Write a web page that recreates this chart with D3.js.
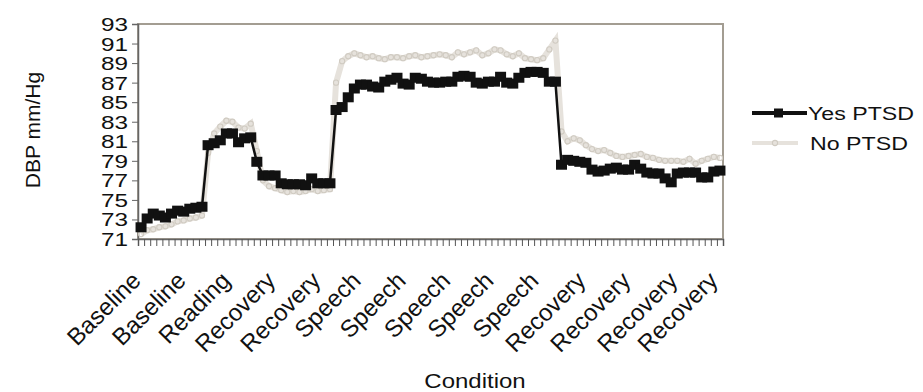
<!DOCTYPE html>
<html>
<head>
<meta charset="utf-8">
<script src="https://cdn.jsdelivr.net/npm/d3@7"></script>
<style>
  body { margin: 0; background: #fff; }
  text { font-family: 'Liberation Sans', Arial, sans-serif; fill: #111; }
</style>
</head>
<body>
<svg id="chart" width="923" height="392"></svg>
<script>
const yesPtsd = [
  72.2, 73.1, 73.6, 73.4, 73.2, 73.6, 73.9, 73.8, 74.1, 74.2, 74.3,
  80.6, 80.8, 81.1, 81.8, 81.8, 80.9, 81.3, 81.4,
  78.9, 77.5, 77.5, 77.5, 76.7, 76.6, 76.6, 76.6, 76.5, 77.2, 76.7, 76.7, 76.7,
  84.2, 84.5, 85.5, 86.4, 86.8, 86.8, 86.6, 86.5, 87.1, 87.3, 87.5, 86.9, 86.8,
  87.5, 87.4, 87.1, 87.0, 87.0, 87.1, 87.1, 87.6, 87.7, 87.6, 87.0, 86.9, 87.1,
  87.1, 87.6, 87.0, 86.9, 87.5, 88.0, 88.1, 88.1, 88.0, 87.1, 87.1,
  78.6, 79.1, 79.0, 78.9, 78.8, 78.1, 77.9, 78.0, 78.2, 78.3, 78.1, 78.1, 78.6,
  78.2, 77.8, 77.7, 77.7, 77.2, 76.8, 77.7, 77.8, 77.8, 77.8, 77.3, 77.3, 77.9, 78.0
];
const noPtsd = [
  71.5, 71.9, 72.0, 72.2, 72.3, 72.5, 72.8, 72.9, 73.1, 73.2, 73.4,
  79.8, 81.8, 82.5, 83.1, 83.0, 82.4, 82.3, 82.8,
  80.0, 77.0, 76.4, 76.2, 76.0, 75.8, 75.9, 75.8, 75.9, 76.1, 75.9, 76.0, 76.1,
  87.0, 89.2, 89.7, 90.0, 89.8, 89.6, 89.7, 89.5, 89.4, 89.6, 89.6, 89.5, 89.7,
  89.8, 89.6, 89.7, 89.8, 89.9, 89.8, 89.6, 90.1, 89.9, 90.1, 90.3, 89.8, 90.0,
  90.4, 90.3, 89.9, 89.7, 90.0, 89.5, 89.4, 89.3, 89.5, 90.4, 91.3,
  82.0, 81.0, 81.3, 81.1, 80.6, 80.2, 80.0, 80.1, 79.8, 79.5, 79.4, 79.5, 79.6,
  79.7, 79.4, 79.3, 79.1, 79.0, 79.0, 79.0, 78.9, 79.2, 78.7, 79.0, 79.2, 79.4, 79.3
];
const tickLabels = ['Baseline', 'Baseline', 'Reading', 'Recovery', 'Recovery',
  'Speech', 'Speech', 'Speech', 'Speech', 'Speech',
  'Recovery', 'Recovery', 'Recovery', 'Recovery'];
// where each label sits, in measurement units along the axis
const tickLabelPos = [-0.3, 7.1, 14.4, 21.8, 29.2, 35.8, 43.2, 50.5, 57.6, 65.0, 72.7, 80.1, 87.8, 94.4];
const yTicks = d3.range(71, 94, 2);
const seriesNames = ['Yes PTSD', 'No PTSD'];

const margin = { top: 24, right: 200, bottom: 153, left: 138 };
const width = 923 - margin.left - margin.right;
const height = 392 - margin.top - margin.bottom;
const n = yesPtsd.length;

const svg = d3.select('#chart');
const g = svg.append('g')
  .attr('transform', `translate(${margin.left},${margin.top})`);

const x = d3.scaleLinear().domain([0, n]).range([0, width]);
const y = d3.scaleLinear().domain([71, 93]).range([height, 0]);

// plot area frame
g.append('rect')
  .attr('width', width)
  .attr('height', height)
  .attr('fill', 'none')
  .attr('stroke', '#a39d92')
  .attr('stroke-width', 2);

// y axis
const yAxis = g.append('g')
  .call(d3.axisLeft(y).tickValues(yTicks).tickSize(6).tickFormat(d3.format('d')));
yAxis.select('.domain').attr('stroke', '#666').attr('stroke-width', 1.5);
yAxis.selectAll('.tick line').attr('stroke', '#666');
yAxis.selectAll('.tick text')
  .attr('dy', '0.36em')
  .style('font-size', '18px')
  .attr('transform', 'scale(1.35,1)')
  .attr('x', -10 / 1.35)
  .attr('fill', '#111');

// x axis with a tick per measurement
const xAxis = g.append('g')
  .attr('transform', `translate(0,${height})`)
  .call(d3.axisBottom(x).tickValues(d3.range(0, n + 1)).tickSize(7).tickFormat(''));
xAxis.select('.domain').attr('stroke', '#666').attr('stroke-width', 1.5);
xAxis.selectAll('.tick line').attr('stroke', '#555');

// category labels
g.append('g')
  .selectAll('text')
  .data(tickLabels)
  .enter()
  .append('text')
    .attr('transform', (d, i) => `translate(${x(tickLabelPos[i])},${height + 37}) rotate(-45)`)
    .attr('text-anchor', 'end')
    .attr('dy', '0.35em')
    .style('font-size', '24px')
    .text(d => d);

const line = d3.line()
  .x((d, i) => x(i + 0.5))
  .y(d => y(d));

// No PTSD: pale speckled band
g.append('path')
  .datum(noPtsd)
  .attr('fill', 'none')
  .attr('stroke', '#e6e2dc')
  .attr('stroke-width', 6)
  .attr('d', line);
g.append('g')
  .selectAll('circle')
  .data(noPtsd)
  .enter()
  .append('circle')
    .attr('cx', (d, i) => x(i + 0.5))
    .attr('cy', d => y(d))
    .attr('r', 2.6)
    .attr('fill', 'none')
    .attr('stroke', '#d0cbc2')
    .attr('stroke-width', 1.1);

// Yes PTSD: black line with square markers
g.append('path')
  .datum(yesPtsd)
  .attr('fill', 'none')
  .attr('stroke', '#111')
  .attr('stroke-width', 2.5)
  .attr('d', line);
g.append('g')
  .selectAll('rect')
  .data(yesPtsd)
  .enter()
  .append('rect')
    .attr('x', (d, i) => x(i + 0.5) - 5.5)
    .attr('y', d => y(d) - 5)
    .attr('width', 11)
    .attr('height', 10)
    .attr('fill', '#111');

// axis titles
svg.append('text')
  .attr('transform', 'translate(40,130) rotate(-90)')
  .attr('text-anchor', 'middle')
  .style('font-size', '21px')
  .text('DBP mm/Hg');
svg.append('text')
  .attr('transform', 'translate(475,388) scale(1.2,1)')
  .attr('text-anchor', 'middle')
  .style('font-size', '20px')
  .text('Condition');

// legend
const legend = svg.append('g');
legend.append('line')
  .attr('x1', 752).attr('x2', 807).attr('y1', 113).attr('y2', 113)
  .attr('stroke', '#111').attr('stroke-width', 4);
legend.append('rect')
  .attr('x', 774).attr('y', 108.5).attr('width', 9).attr('height', 9)
  .attr('fill', '#111');
legend.append('line')
  .attr('x1', 752).attr('x2', 798).attr('y1', 143).attr('y2', 143)
  .attr('stroke', '#e6e2dc').attr('stroke-width', 4);
legend.append('circle')
  .attr('cx', 775).attr('cy', 143).attr('r', 2.6)
  .attr('fill', 'none').attr('stroke', '#d0cbc2').attr('stroke-width', 1.1);
legend.selectAll('text.lg')
  .data(seriesNames)
  .enter()
  .append('text')
    .attr('class', 'lg')
    .attr('transform', (d, i) => `translate(${i ? 810 : 808},${i ? 150 : 120}) scale(1.22,1)`)
    .style('font-size', '19px')
    .text(d => d);
</script>
</body>
</html>
